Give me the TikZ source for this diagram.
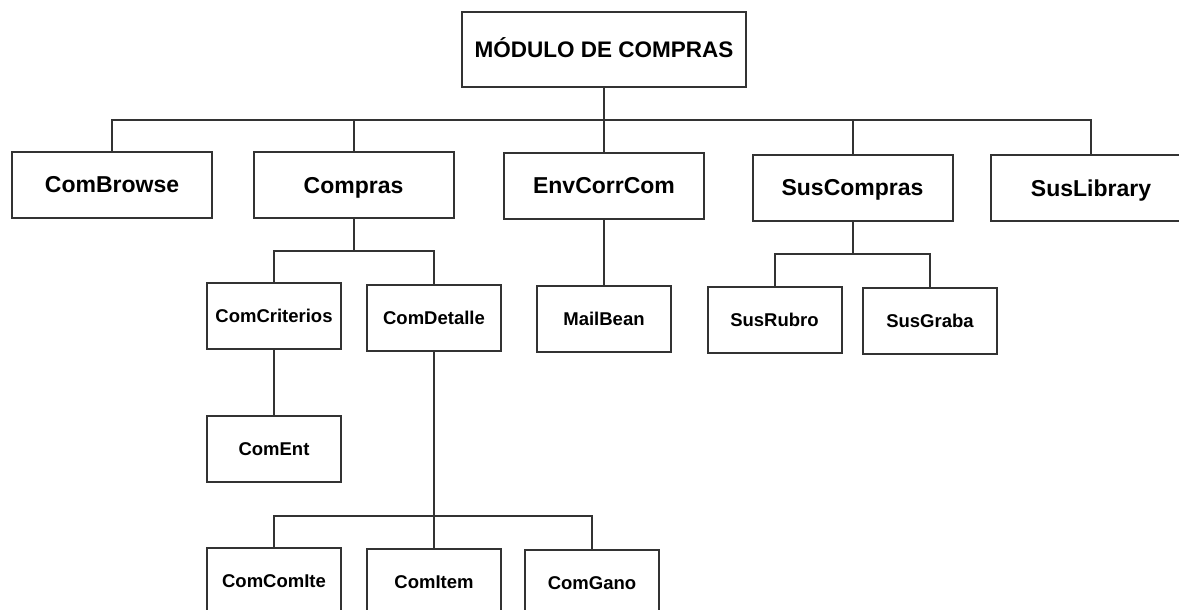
\documentclass[tikz,border=0pt]{standalone}
\usepackage{fontspec}
\setmainfont{Liberation Sans}

\tikzset{
	modbox/.style={draw=black!80, line width=2pt, fill=white, inner sep=0pt, text depth=0pt},
	mainbox/.style={modbox, minimum width=284pt, minimum height=75pt, text height=16.1pt, font=\bfseries\fontsize{22.5}{27}\selectfont},
	lvlone/.style={modbox, minimum width=200pt, minimum height=66pt, text height=16.5pt, font=\bfseries\fontsize{23}{27}\selectfont},
	lvltwo/.style={modbox, minimum width=134pt, minimum height=66pt, text height=13.2pt, font=\bfseries\fontsize{18.5}{22}\selectfont},
	link/.style={draw=black!80, line width=2pt}
}

\begin{document}
\begin{tikzpicture}[x=1pt,y=-1pt]
	\useasboundingbox (0,0) rectangle (1179,610);
	\clip (0,0) rectangle (1179,610);
	\node[mainbox] (modulo) at (604,49.5) {MÓDULO DE COMPRAS};
	\node[lvlone] (combrowse) at (112,184.5) {ComBrowse};
	\node[lvlone] (compras) at (353.5,185) {Compras};
	\node[lvlone] (envcorrcom) at (604,185.5) {EnvCorrCom};
	\node[lvlone] (suscompras) at (852.5,187.5) {SusCompras};
	\node[lvlone] (suslibrary) at (1091,188) {SusLibrary};
	\node[lvltwo] (comcriterios) at (274,316) {ComCriterios};
	\node[lvltwo] (comdetalle) at (434,317.5) {ComDetalle};
	\node[lvltwo] (mailbean) at (604,319) {MailBean};
	\node[lvltwo] (susrubro) at (774.5,320) {SusRubro};
	\node[lvltwo] (susgraba) at (930,321) {SusGraba};
	\node[lvltwo] (coment) at (274,448.5) {ComEnt};
	\node[lvltwo] (comcomite) at (274,581) {ComComIte};
	\node[lvltwo] (comitem) at (434,582) {ComItem};
	\node[lvltwo] (comgano) at (592,583) {ComGano};
	\coordinate (busmain) at (604,119.5);
	\coordinate (buscompras) at (353.5,251);
	\coordinate (busdetalle) at (434,516);
	\coordinate (bussus) at (852.5,254);
	\draw[link] (modulo.south) -- (busmain);
	\draw[link] (combrowse.north) |- (busmain) -| (suslibrary.north);
	\draw[link] (busmain -| compras.north) -- (compras.north);
	\draw[link] (busmain -| envcorrcom.north) -- (envcorrcom.north);
	\draw[link] (busmain -| suscompras.north) -- (suscompras.north);
	\draw[link] (compras.south) -- (buscompras);
	\draw[link] (comcriterios.north) |- (buscompras) -| (comdetalle.north);
	\draw[link] (comcriterios.south) -- (coment.north);
	\draw[link] (comdetalle.south) -- (busdetalle);
	\draw[link] (comcomite.north) |- (busdetalle) -| (comgano.north);
	\draw[link] (busdetalle -| comitem.north) -- (comitem.north);
	\draw[link] (envcorrcom.south) -- (mailbean.north);
	\draw[link] (suscompras.south) -- (bussus);
	\draw[link] (susrubro.north) |- (bussus) -| (susgraba.north);
\end{tikzpicture}
\end{document}
